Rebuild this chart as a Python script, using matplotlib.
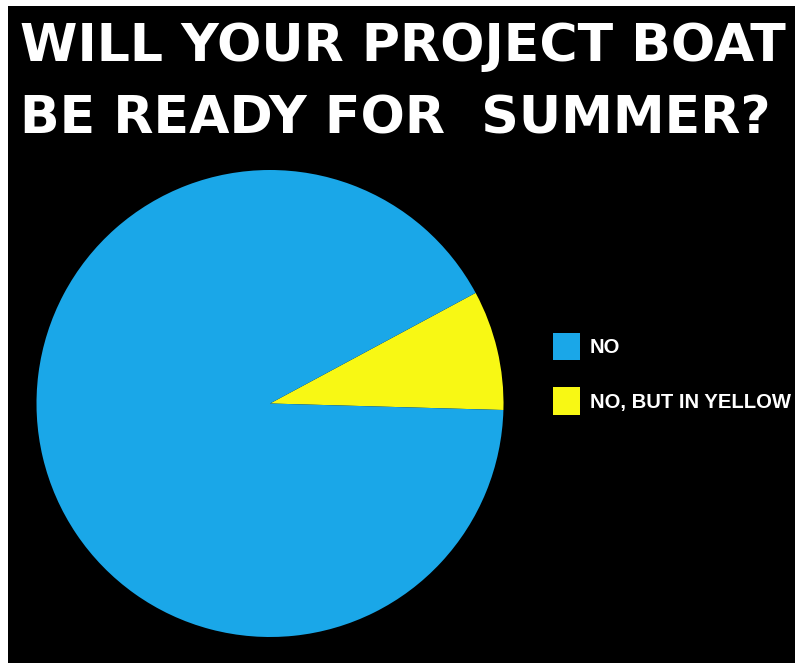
import matplotlib.pyplot as plt
from matplotlib.patches import Rectangle, Patch

labels = ['NO', 'NO, BUT IN YELLOW']
shares = [91.7, 8.3]
colors = ['#1aa7e8', '#f8f814']
title_lines = ['WILL YOUR PROJECT BOAT', 'BE READY FOR  SUMMER?']

W, H = 795, 663
fig = plt.figure(figsize=(W / 100, H / 100), dpi=100, facecolor='white')

# black panel, white strip on top and left
fig.patches.append(Rectangle((8 / W, 0), 1, (H - 6) / H, transform=fig.transFigure,
                             facecolor='black', edgecolor='none', zorder=-5))

# title
fig.text(20 / W, 1 - 47 / H, title_lines[0], color='white', fontsize=37.5,
         fontweight='bold', family='DejaVu Sans', va='center', ha='left')
fig.text(20 / W, 1 - 119 / H, title_lines[1], color='white', fontsize=37.5,
         fontweight='bold', family='DejaVu Sans', va='center', ha='left')

# pie: centre (270, 403.5), radius 233.5 px
cx, cy, r = 270, 403.5, 233.5
ax = fig.add_axes([(cx - r) / W, (H - cy - r) / H, 2 * r / W, 2 * r / H])
ax.pie(shares[::-1], colors=colors[::-1], startangle=-1.6, counterclock=True,
       wedgeprops=dict(linewidth=0))
ax.set_xlim(-1, 1)
ax.set_ylim(-1, 1)
ax.set_aspect('equal')
ax.axis('off')

handles = [Patch(facecolor=c, edgecolor='none') for c in colors]
leg = fig.legend(handles, labels, loc='upper left', bbox_to_anchor=(553 / W, 1 - 333 / H),
                 frameon=False, handlelength=1.33, handleheight=1.68,
                 labelspacing=1.35, handletextpad=0.48, borderpad=0, borderaxespad=0,
                 prop=dict(family='Liberation Sans', weight='bold', size=14.6))
for t in leg.get_texts():
    t.set_color('white')

fig.savefig('out.png', dpi=100, facecolor='white')
